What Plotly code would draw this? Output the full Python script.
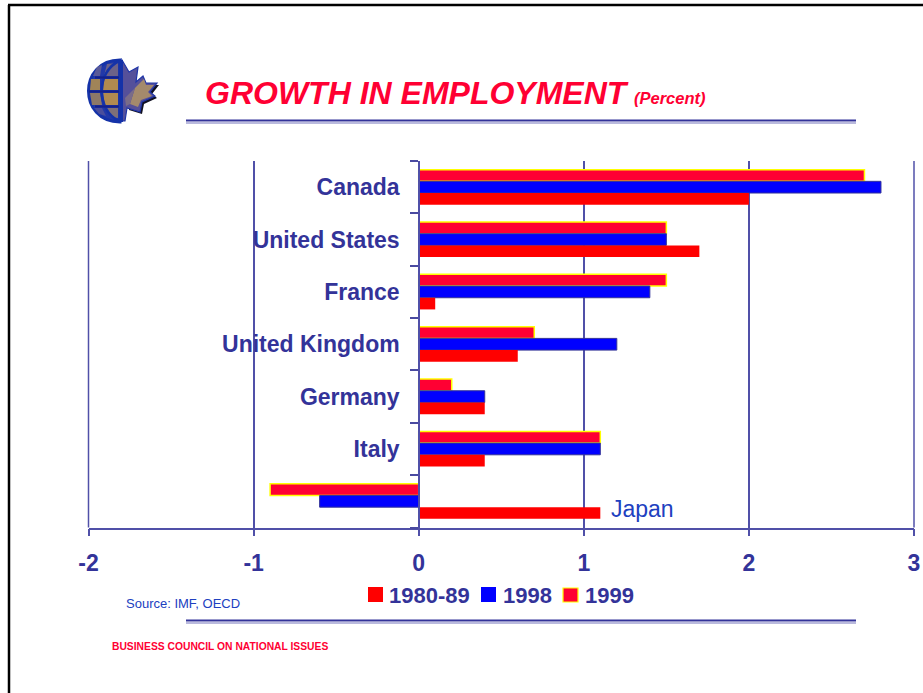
import plotly.graph_objects as go

countries = ["Canada", "United States", "France", "United Kingdom", "Germany", "Italy", "Japan"]
axis_names = ["Canada", "United States", "France", "United Kingdom", "Germany", "Italy", ""]
growth_1999 = [2.7, 1.5, 1.5, 0.7, 0.2, 1.1, -0.9]
growth_1998 = [2.8, 1.5, 1.4, 1.2, 0.4, 1.1, -0.6]
growth_1980s = [2.0, 1.7, 0.1, 0.6, 0.4, 0.4, 1.1]
x_ticks = [-2, -1, 0, 1, 2, 3]
x_tick_labels = ["-2", "-1", "0", "1", "2", "3"]

W, H = 923, 693
NAVY = "#333399"
TITLE_RED = "#FF0033"
GRID = "#5050A8"
FONT = "Liberation Sans, Arial, sans-serif"
PLOT_LEFT, PLOT_RIGHT, PLOT_TOP, PLOT_BOTTOM = 88.5, 914, 161, 527.5


def px(x):
    return x / W


def py(y):
    return 1 - y / H


def path(points, close=True):
    body = "L".join(f"{px(x):.5f},{py(y):.5f}" for x, y in points)
    return "M" + body + ("Z" if close else "")


def curve(p0, c1, c2, p1):
    fmt = lambda p: f"{px(p[0]):.5f},{py(p[1]):.5f}"
    return f"M{fmt(p0)}C{fmt(c1)} {fmt(c2)} {fmt(p1)}"


def rect(x0, y0, x1, y1, fill, line=None, lw=0, layer="above"):
    return dict(type="rect", xref="paper", yref="paper", x0=px(x0), x1=px(x1), y0=py(y0), y1=py(y1),
                fillcolor=fill, line=dict(color=line or fill, width=lw), layer=layer)


def stroke(x0, y0, x1, y1, color, width):
    return dict(type="line", xref="paper", yref="paper", x0=px(x0), x1=px(x1), y0=py(y0), y1=py(y1),
                line=dict(color=color, width=width), layer="above")


def filled(d, fill, line="rgba(0,0,0,0)", lw=0):
    return dict(type="path", xref="paper", yref="paper", path=d, fillcolor=fill,
                line=dict(color=line, width=lw), layer="above")


def open_path(d, color, width):
    return dict(type="path", xref="paper", yref="paper", path=d, fillcolor="rgba(0,0,0,0)",
                line=dict(color=color, width=width), layer="above")


shapes = []

# Plotly leaves out gridlines at the ends of the range, so draw those two explicitly
for edge in (PLOT_LEFT, PLOT_RIGHT):
    shapes.append(stroke(edge, PLOT_TOP, edge, PLOT_BOTTOM, GRID, 1.5))

# Page frame: top and left edges
shapes += [stroke(8, 5, W, 5, "#000000", 2.5), stroke(9, 5, 9, H, "#000000", 2.5)]

# Double rules under the title and above the footer
for y in (120.5, 620.5):
    shapes += [stroke(186, y, 856, y, NAVY, 2), stroke(186, y + 2.5, 856, y + 2.5, "#7777BB", 1.2)]

# Emblem: half globe joined to half a maple leaf
leaf = [(122, 60), (129, 72), (138, 67), (136, 82), (143, 76), (146, 83), (157, 83), (150, 92),
        (155, 96), (142, 102), (140, 112), (127, 108), (125, 121), (122, 121)]
shapes.append(filled(path([(x + 2, y + 2) for x, y in leaf[5:12]] + [(130, 100)]), "#111122"))
shapes.append(filled(path(leaf), "#55509A", "#1F35A8", 1.2))
shapes.append(filled(path([(135, 88), (144, 79), (146, 85), (154, 85), (148, 92), (152, 96), (141, 100), (138, 107), (130, 104)]),
                     "#A48A6C"))
shapes.append(filled(path([(125, 98), (135, 88), (130, 104), (126, 106)]), "#7A6C88"))

globe_edge = ("M{0:.5f},{1:.5f}".format(px(120), py(60))
              + "C{:.5f},{:.5f} {:.5f},{:.5f} {:.5f},{:.5f}".format(px(78), py(60), px(78), py(122), px(120), py(122))
              + "Z")
shapes.append(filled(globe_edge, "#2238A8", "#1432A8", 3))

# Globe cells, left to right and top to bottom
cells = [
    ((107, 64), (118, 63), (118, 76), (104, 76), "#6C6288"),
    ((104, 79), (118, 79), (118, 90), (103, 90), "#B08A50"),
    ((103, 93), (118, 93), (118, 105), (105, 105), "#B08A50"),
    ((106, 108), (118, 108), (118, 118), (111, 117), "#7E7078"),
    ((97, 67), (102, 65), (100, 76), (93, 76), "#5A5A98"),
    ((91, 79), (100, 79), (100, 90), (90, 90), "#A08458"),
    ((90, 93), (100, 93), (102, 105), (92, 105), "#8C7868"),
    ((94, 108), (102, 108), (106, 116), (99, 114), "#4A4E9C"),
]
for *corners, colour in cells:
    shapes.append(filled(path(corners), colour))

shapes.append(open_path(curve((119, 61), (96, 72), (96, 110), (119, 121)), "#1432A8", 2.6))
for y, half in ((77.5, 25), (91.5, 31), (106.5, 25)):
    shapes.append(stroke(120 - half, y, 120, y, "#14208A", 2.2))
shapes.append(rect(119, 60, 123, 122, "#1432A8"))

# Hand-set legend keys
shapes.append(rect(368, 587, 383, 602, "#FF0000"))
shapes.append(rect(481, 587, 496, 602, "#0000FF"))
shapes.append(rect(563, 588, 578, 602, TITLE_RED, "#FFFF00", 1.2))


def label(text, x, y, size, color, bold=True, italic=False):
    if italic:
        text = f"<i>{text}</i>"
    if bold:
        text = f"<b>{text}</b>"
    return dict(text=text, xref="paper", yref="paper", x=px(x), y=py(y), xanchor="left", yanchor="middle",
                showarrow=False, xshift=-1, font=dict(family=FONT, size=size, color=color))


annotations = [
    label("GROWTH IN EMPLOYMENT", 204, 93, 32, TITLE_RED, italic=True),
    label("(Percent)", 633, 98, 16.5, TITLE_RED, italic=True),
    label("Japan", 610, 509, 23, "#2040C0", bold=False),
    label("Source: IMF, OECD", 125, 603, 13, "#2040C0", bold=False),
    label("BUSINESS COUNCIL ON NATIONAL ISSUES", 111, 646, 10.3, TITLE_RED),
    label("1980-89", 388, 595, 22, NAVY),
    label("1998", 502, 595, 22, NAVY),
    label("1999", 584, 595, 22, NAVY),
]

fig = go.Figure()
fig.add_bar(name="1999", y=countries, x=growth_1999, orientation="h",
            marker=dict(color=TITLE_RED, line=dict(color="#FFFF00", width=1.5)))
fig.add_bar(name="1998", y=countries, x=growth_1998, orientation="h",
            marker=dict(color="#0000FF", line=dict(color=NAVY, width=1)))
fig.add_bar(name="1980-89", y=countries, x=growth_1980s, orientation="h",
            marker=dict(color="#FF0000", line=dict(color="#FF0000", width=0)))

fig.update_layout(
    width=W, height=H, autosize=False,
    margin=dict(l=0, r=0, t=0, b=0),
    paper_bgcolor="white", plot_bgcolor="white",
    barmode="group", bargap=0.33, bargroupgap=0,
    showlegend=False,
    shapes=shapes, annotations=annotations,
    font=dict(family=FONT),
    xaxis=dict(
        domain=[px(PLOT_LEFT), px(PLOT_RIGHT)], range=[-2, 3], automargin=False,
        tickmode="array", tickvals=x_ticks, ticktext=x_tick_labels,
        showgrid=True, gridcolor=GRID, gridwidth=1.5, zeroline=False,
        showline=True, linecolor=GRID, linewidth=1.5,
        ticks="outside", ticklen=7, tickcolor=GRID, tickwidth=1.5,
        ticklabelstandoff=7,
        tickfont=dict(family=FONT, size=23, color=NAVY, weight="bold"),
    ),
    yaxis=dict(
        domain=[py(PLOT_BOTTOM), py(PLOT_TOP)], type="category", categoryorder="array", categoryarray=countries,
        autorange="reversed", anchor="free", position=px(419), automargin=False,
        tickmode="array", tickvals=list(range(len(countries))), ticktext=axis_names,
        tickson="boundaries", ticks="outside", ticklen=8, tickcolor="#4A4AA0", tickwidth=1.5,
        showgrid=False, showline=True, linecolor=GRID, linewidth=1.5,
        ticklabelstandoff=14,
        tickfont=dict(family=FONT, size=23, color=NAVY, weight="bold"),
    ),
)

fig.write_html("out.html", config=dict(displayModeBar=False))
